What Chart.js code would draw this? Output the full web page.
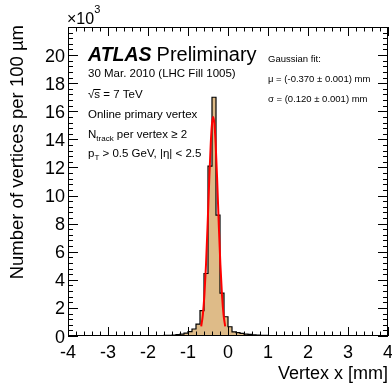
<!DOCTYPE html>
<html>
<head>
<meta charset="utf-8">
<script src="https://cdn.jsdelivr.net/npm/chart.js@4.4.0/dist/chart.umd.min.js"></script>
<style>
  html, body { margin: 0; padding: 0; background: #fff; overflow: hidden; }
  canvas { display: block; }
</style>
</head>
<body>
<canvas id="vertexChart" width="392" height="383"></canvas>
<script>
// Vertex x distribution, 100 um bins from -4 to 4 mm, counts in units of 10^3
const xMin = -4, xMax = 4, binWidth = 0.1;
const counts = [
  0.004, 0.003, 0.004, 0.005, 0.004, 0.005, 0.006, 0.005, 0.006, 0.007,
  0.007, 0.008, 0.008, 0.009, 0.010, 0.011, 0.012, 0.013, 0.015, 0.017,
  0.020, 0.025, 0.030, 0.035, 0.045, 0.055, 0.070, 0.100, 0.140, 0.210,
  0.310, 0.500, 0.850, 1.800, 4.450, 12.10, 17.00, 8.600, 3.050, 1.370,
  0.660, 0.300, 0.240, 0.190, 0.140, 0.110, 0.080, 0.060, 0.050, 0.040,
  0.030, 0.025, 0.020, 0.018, 0.015, 0.013, 0.012, 0.011, 0.010, 0.009,
  0.008, 0.008, 0.007, 0.007, 0.006, 0.006, 0.005, 0.005, 0.005, 0.004,
  0.004, 0.004, 0.003, 0.003, 0.003, 0.003, 0.002, 0.002, 0.002, 0.002
];

// Gaussian fit curve
const fitX = [-0.67, -0.63, -0.59, -0.55, -0.51, -0.47, -0.43, -0.40, -0.37,
              -0.34, -0.31, -0.27, -0.23, -0.19, -0.15, -0.11, -0.07];
const fitY = [0.69, 1.49, 2.90, 5.07, 7.90, 11.03, 13.77, 15.12, 15.6,
              15.12, 13.77, 11.03, 7.90, 5.07, 2.90, 1.49, 0.69];

const xTicks = [-4, -3, -2, -1, 0, 1, 2, 3, 4];
const yTicks = [0, 2, 4, 6, 8, 10, 12, 14, 16, 18, 20];
const yMax = 22;

const FONT = '"Liberation Sans", Arial, Helvetica, sans-serif';

// stepped outline: left edge of each bin, plus closing point at xMax
const histPoints = counts.map((c, i) => ({ x: +(xMin + i * binWidth).toFixed(1), y: c }));
histPoints.push({ x: xMax, y: counts[counts.length - 1] });
const fitPoints = fitX.map((v, i) => ({ x: v, y: fitY[i] }));

function txt(ctx, s, x, y, size, style) {
  ctx.font = (style || '') + ' ' + size + 'px ' + FONT;
  ctx.fillText(s, x, y);
  return ctx.measureText(s).width;
}

// ROOT-style frame: ticks inside on all four sides, labels, titles, annotations
const atlasFrame = {
  id: 'atlasFrame',
  afterDraw(chart) {
    const { ctx, chartArea: a, scales: { x, y } } = chart;
    ctx.save();
    ctx.strokeStyle = '#000';
    ctx.fillStyle = '#000';
    ctx.lineWidth = 1;
    ctx.strokeRect(a.left + 0.5, a.top + 0.5, a.right - a.left - 1, a.bottom - a.top - 1);

    ctx.beginPath();
    for (let k = 0; k <= 40; k++) {
      const v = xMin + k * 0.2;
      const px = Math.round(x.getPixelForValue(v)) + 0.5;
      const len = k % 5 === 0 ? 9 : 4.5;
      ctx.moveTo(px, a.bottom); ctx.lineTo(px, a.bottom - len);
      ctx.moveTo(px, a.top); ctx.lineTo(px, a.top + len);
    }
    for (let k = 0; k <= 55; k++) {
      const v = k * 0.4;
      const py = Math.round(y.getPixelForValue(v)) + 0.5;
      const len = k % 5 === 0 ? 10 : 5;
      ctx.moveTo(a.left, py); ctx.lineTo(a.left + len, py);
      ctx.moveTo(a.right, py); ctx.lineTo(a.right - len, py);
    }
    ctx.stroke();

    // tick labels
    ctx.textBaseline = 'alphabetic';
    ctx.textAlign = 'center';
    xTicks.forEach(v => txt(ctx, String(v), x.getPixelForValue(v), a.bottom + 22, 18));
    ctx.textAlign = 'right';
    yTicks.forEach(v => txt(ctx, String(v), a.left - 3, y.getPixelForValue(v) + 6.5, 18));

    // axis titles
    txt(ctx, 'Vertex x [mm]', a.right, 379, 18);
    ctx.save();
    ctx.translate(23, a.top - 2);
    ctx.rotate(-Math.PI / 2);
    ctx.textAlign = 'right';
    txt(ctx, 'Number of vertices per 100 \u00b5m', 0, 0, 18.5);
    ctx.restore();

    // x10^3 multiplier
    ctx.textAlign = 'left';
    const w = txt(ctx, '\u00d710', 67, 24, 16);
    txt(ctx, '3', 67 + w, 13, 11);

    // ATLAS label
    const wA = txt(ctx, 'ATLAS', 88, 61, 19.5, 'bold italic');
    txt(ctx, 'Preliminary', 88 + wA + 5, 61, 20);
    txt(ctx, '30 Mar. 2010 (LHC Fill 1005)', 88, 77, 11.5);

    // sqrt(s)
    const wR = txt(ctx, '\u221a', 88, 98, 11.5);
    const wS = txt(ctx, 's', 88 + wR, 98, 11.5);
    ctx.beginPath();
    ctx.moveTo(88 + wR - 0.5, 89.5); ctx.lineTo(88 + wR + wS + 0.5, 89.5);
    ctx.stroke();
    txt(ctx, ' = 7 TeV', 88 + wR + wS, 98, 11.5);

    txt(ctx, 'Online primary vertex', 88, 118, 11.5);
    const wN = txt(ctx, 'N', 88, 138, 11.5);
    const wT = txt(ctx, 'track', 88 + wN, 141, 8);
    txt(ctx, ' per vertex \u2265 2', 88 + wN + wT, 138, 11.5);
    const wP = txt(ctx, 'p', 88, 157, 11.5);
    const wPT = txt(ctx, 'T', 88 + wP, 160, 8);
    txt(ctx, ' > 0.5 GeV, |\u03b7| < 2.5', 88 + wP + wPT, 157, 11.5);

    // fit results
    txt(ctx, 'Gaussian fit:', 268, 62, 9.5);
    txt(ctx, '\u03bc = (-0.370 \u00b1 0.001) mm', 268, 82, 9.5);
    txt(ctx, '\u03c3 = (0.120 \u00b1 0.001) mm', 268, 102, 9.5);
    ctx.restore();
  }
};

new Chart(document.getElementById('vertexChart'), {
  type: 'line',
  data: {
    datasets: [
      {
        label: 'Gaussian fit',
        data: fitPoints,
        borderColor: '#ff0000',
        borderWidth: 2,
        pointRadius: 0,
        cubicInterpolationMode: 'monotone',
        fill: false,
        order: 0
      },
      {
        label: 'Vertex x',
        data: histPoints,
        stepped: 'before',
        borderColor: '#000000',
        borderWidth: 1.2,
        backgroundColor: '#debb88',
        pointRadius: 0,
        fill: 'origin',
        order: 1
      }
    ]
  },
  options: {
    responsive: false,
    animation: false,
    layout: { padding: { left: 68, right: 4, top: 27, bottom: 47 } },
    plugins: { legend: { display: false }, tooltip: { enabled: false } },
    scales: {
      x: { type: 'linear', min: xMin, max: xMax, display: false },
      y: { type: 'linear', min: 0, max: yMax, display: false }
    }
  },
  plugins: [atlasFrame]
});
</script>
</body>
</html>
